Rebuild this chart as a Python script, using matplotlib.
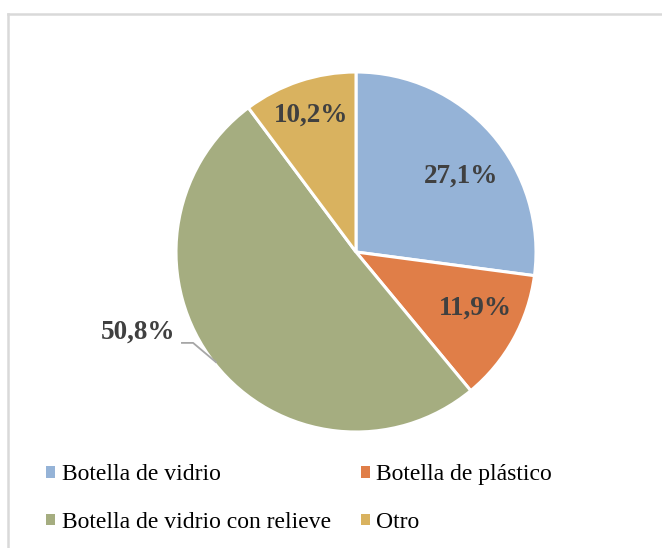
import numpy as np
import matplotlib
matplotlib.use("Agg")
import matplotlib.pyplot as plt
from matplotlib.lines import Line2D
from matplotlib.patches import Patch

categories = ["Botella de vidrio", "Botella de plástico",
              "Botella de vidrio con relieve", "Otro"]
values = [27.1, 11.9, 50.8, 10.2]
labels = ["27,1%", "11,9%", "50,8%", "10,2%"]
colors = ["#95B3D7", "#E07E48", "#A5AD80", "#D9B25F"]

plt.rcParams["font.family"] = ["Liberation Serif", "DejaVu Serif"]

fig = plt.figure(figsize=(6.62, 5.48), dpi=100)
fig.patch.set_facecolor("white")

# frame
fx = 7.5 / 662
fy = 1 - 13.5 / 548
fig.add_artist(Line2D([fx, 1.0], [fy, fy], transform=fig.transFigure,
                      color="#D9D9D9", lw=1.8))
fig.add_artist(Line2D([fx, fx], [0.0, fy], transform=fig.transFigure,
                      color="#D9D9D9", lw=1.8))

cx, cy, R = 356 / 662, (548 - 252) / 548, 180
w, h = R / 662, R / 548
ax = fig.add_axes([cx - w, cy - h, 2 * w, 2 * h])
wedges, _ = ax.pie(values, colors=colors, startangle=90, counterclock=False,
                   radius=1.0,
                   wedgeprops=dict(edgecolor="white", linewidth=2.2))
ax.set_xlim(-1, 1)
ax.set_ylim(-1, 1)
ax.set_aspect("equal")
ax.axis("off")

# label placement (distance from centre, angular nudge in degrees)
dists = [0.72, 0.73, None, 0.80]
nudges = [-5.5, 3.8, 0.0, 0.0]
tstyle = dict(fontsize=19.5, fontweight="bold", color="#404040",
              va="center")
for wdg, lab, d, nd in zip(wedges, labels, dists, nudges):
    mid = np.deg2rad((wdg.theta1 + wdg.theta2) / 2)
    ang = mid + np.deg2rad(nd)
    if d is not None:
        ax.text(d * np.cos(ang), d * np.sin(ang), lab, ha="center", **tstyle)
    else:
        ex, ey = np.cos(mid), np.sin(mid)
        ax.text(-1.005, -0.445, lab, ha="right", **tstyle, clip_on=False)
        ax.plot([-0.967, -0.905, ex * 0.99], [-0.505, -0.505, ey * 0.99],
                color="#A6A6A6", lw=1.3, clip_on=False, zorder=1)

# legend row-major order as in reference
order = [0, 2, 1, 3]
handles = [Patch(facecolor=colors[i], edgecolor="none") for i in order]
leg_labels = [categories[i] for i in order]
leg = fig.legend(handles, leg_labels, ncol=2, frameon=False,
                 loc="upper left", bbox_to_anchor=(37 / 662, 1 - 455 / 548),
                 fontsize=17, handlelength=0.36, handleheight=0.36,
                 handletextpad=0.28, columnspacing=1.3, labelspacing=1.13,
                 borderaxespad=0)

fig.savefig("out.png", dpi=100, facecolor="white")
